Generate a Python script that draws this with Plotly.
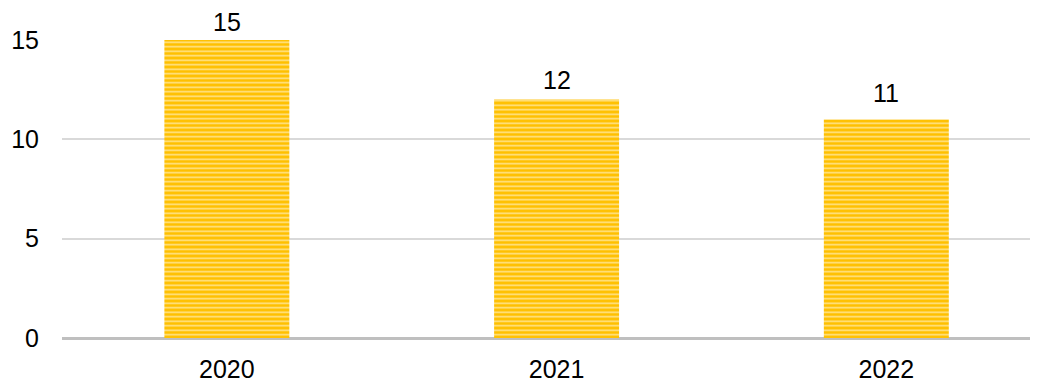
import plotly.graph_objects as go

years = ["2020", "2021", "2022"]
values = [15, 12, 11]
y_ticks = [0, 5, 10, 15]

FONT = "Liberation Sans, Arial"
label_lift = [2, 4, 10]  # extra px above each bar for its data label

fig = go.Figure()
fig.add_trace(go.Bar(
    x=years,
    y=values,
    width=0.379,
    marker=dict(
        color="#FFC000",
        line=dict(width=0),
        pattern=dict(shape="-", size=4.5, solidity=0.35,
                     fgcolor="#FFE48F", bgcolor="#FFC000", fillmode="replace"),
    ),
))

# category axis: annotation x given as category index
for i, (v, lift) in enumerate(zip(values, label_lift)):
    fig.add_annotation(
        x=i, y=v, text=str(v), showarrow=False,
        yanchor="bottom", xanchor="center", yshift=lift,
        font=dict(family=FONT, size=25, color="#000000"),
    )

# page body has an 8px default margin; size and margins compensate for it
fig.update_layout(
    width=1030, height=375,
    margin=dict(l=54, r=0, t=32, b=43),
    paper_bgcolor="white", plot_bgcolor="white",
    showlegend=False,
    font=dict(family=FONT, size=25, color="#000000"),
    xaxis=dict(
        type="category",
        range=[-0.5, 2.46],
        showgrid=False,
        showline=False,
        ticks="",
        ticklabelstandoff=14,
        tickfont=dict(size=25),
    ),
    yaxis=dict(
        range=[0, 15],
        tickvals=y_ticks,
        showgrid=True,
        gridcolor="#D9D9D9",
        gridwidth=1.5,
        zeroline=True,
        zerolinecolor="#BFBFBF",
        zerolinewidth=3,
        showline=False,
        ticks="",
        ticklabelstandoff=22,
        tickfont=dict(size=25),
    ),
)

fig.write_html("out.html")
